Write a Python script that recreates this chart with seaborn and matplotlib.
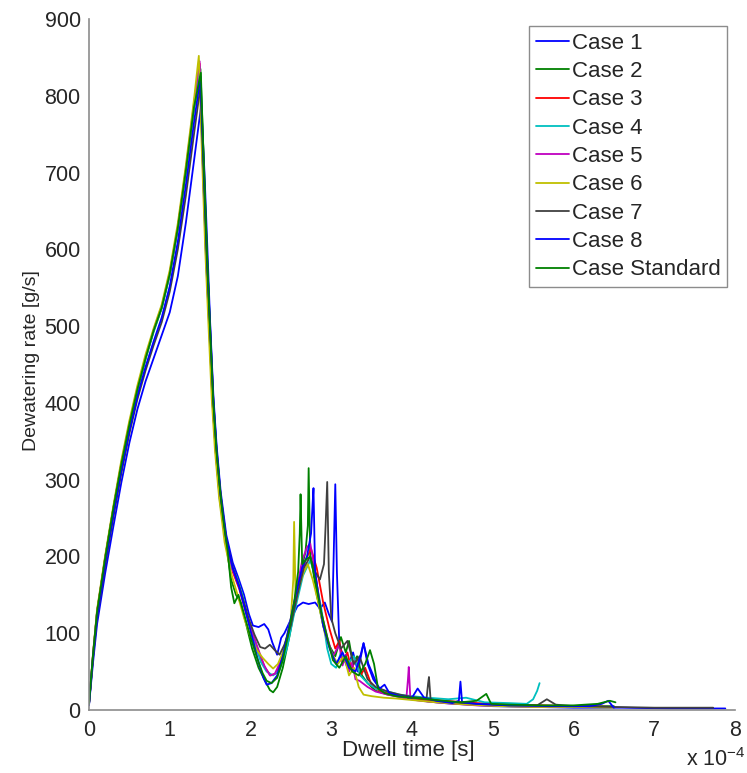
import matplotlib
matplotlib.use("Agg")
import matplotlib.pyplot as plt
import seaborn as sns
import pandas as pd

# ---------------- data (dwell time in units of 1e-4 s, rate in g/s) ----------------
case_names = ["Case 1", "Case 2", "Case 3", "Case 4", "Case 5", "Case 6", "Case 7", "Case 8", "Case Standard"]

rise_t = [0, 0.05, 0.1, 0.2, 0.3, 0.4, 0.5, 0.6, 0.7, 0.8, 0.9, 1.0, 1.1, 1.2, 1.3]

case1_rise = [6, 62, 112, 178, 238, 296, 348, 392, 428, 458, 488, 518, 565, 635, 715]
case1_t = [1.39, 1.43, 1.47, 1.5, 1.54, 1.58, 1.63, 1.7, 1.78, 1.85, 1.92, 1.98, 2.03, 2.1, 2.17, 2.22, 2.27,
           2.33, 2.38, 2.42, 2.5, 2.58, 2.65, 2.72, 2.8, 2.86, 2.92, 2.97, 3.01, 3.03, 3.05, 3.07, 3.1, 3.15,
           3.2, 3.27, 3.33, 3.4, 3.46, 3.52, 3.58, 3.65, 3.75, 3.9, 4.05, 4.2, 4.4, 4.7, 5.0, 5.5, 6.0, 6.6,
           7.2, 7.88]
case1_rate = [788, 700, 590, 505, 410, 345, 285, 228, 192, 172, 150, 125, 110, 108, 112, 105, 88,
              72, 94, 100, 118, 135, 140, 138, 140, 132, 140, 125, 115, 200, 294, 180, 85, 70,
              55, 75, 50, 87, 60, 45, 30, 24, 20, 16, 14, 11, 9, 7, 5, 4, 3, 3,
              2, 2]

case2_rise = [8, 72, 128, 198, 262, 320, 372, 418, 458, 494, 524, 568, 628, 703, 785]
case2_t = [1.38, 1.42, 1.46, 1.5, 1.54, 1.58, 1.63, 1.7, 1.76, 1.82, 1.88, 1.95, 2.02, 2.1, 2.18, 2.24, 2.28,
           2.33, 2.4, 2.48, 2.56, 2.63, 2.68, 2.71, 2.72, 2.74, 2.77, 2.82, 2.9, 2.97, 3.05, 3.12, 3.18,
           3.22, 3.27, 3.32, 3.38, 3.45, 3.55, 3.7, 3.85, 4.0, 4.2, 4.5, 4.8, 5.1, 5.5, 6.0, 6.5]
case2_rate = [835, 720, 600, 490, 395, 330, 270, 215, 170, 150, 140, 110, 80, 55, 38, 26, 23,
              30, 55, 95, 140, 185, 205, 240, 315, 200, 185, 150, 110, 85, 70, 95, 75,
              90, 60, 70, 45, 35, 25, 20, 17, 15, 12, 10, 8, 7, 6, 5, 5]

case3_rise = [8, 71, 127, 197, 260, 320, 372, 418, 458, 494, 524, 568, 628, 703, 785]
case3_t = [1.37, 1.41, 1.45, 1.49, 1.53, 1.57, 1.62, 1.7, 1.78, 1.86, 1.94, 2.02, 2.1, 2.18, 2.25, 2.32,
           2.4, 2.5, 2.6, 2.68, 2.75, 2.82, 2.9, 2.98, 3.05, 3.1, 3.15, 3.2, 3.25, 3.3, 3.36, 3.42,
           3.5, 3.6, 3.75, 3.9, 4.1, 4.4, 4.8, 5.2, 5.6, 6.0, 6.5]
case3_rate = [842, 710, 590, 495, 400, 335, 275, 215, 180, 158, 128, 100, 75, 55, 45, 48,
              70, 110, 160, 195, 210, 185, 140, 105, 80, 90, 62, 75, 52, 66, 45, 55,
              32, 25, 20, 17, 14, 12, 9, 7, 6, 5, 4]

case4_rise = [8, 71, 127, 196, 259, 319, 371, 417, 457, 492, 523, 566, 627, 702, 783]
case4_t = [1.37, 1.41, 1.45, 1.49, 1.53, 1.57, 1.62, 1.7, 1.77, 1.83, 1.9, 1.97, 2.05, 2.13, 2.2, 2.28,
           2.36, 2.45, 2.55, 2.65, 2.74, 2.8, 2.88, 2.95, 3.0, 3.06, 3.12, 3.2, 3.28, 3.36, 3.45, 3.55,
           3.7, 3.85, 4.0, 4.2, 4.45, 4.67, 4.9, 5.2, 5.42, 5.5, 5.55, 5.58]
case4_rate = [838, 705, 585, 495, 400, 335, 272, 215, 185, 173, 150, 118, 88, 62, 50, 45,
              52, 80, 130, 175, 195, 175, 130, 80, 60, 55, 75, 60, 70, 45, 35, 28,
              24, 20, 18, 16, 14, 16, 10, 9, 8, 14, 25, 35]

case5_rise = [8, 73, 129, 199, 262, 322, 374, 420, 460, 495, 526, 570, 630, 706, 790]
case5_t = [1.37, 1.41, 1.45, 1.49, 1.53, 1.57, 1.62, 1.7, 1.78, 1.86, 1.94, 2.02, 2.1, 2.17, 2.24, 2.3,
           2.38, 2.47, 2.56, 2.64, 2.7, 2.74, 2.8, 2.87, 2.95, 3.02, 3.1, 3.14, 3.18, 3.22, 3.26, 3.3,
           3.35, 3.45, 3.55, 3.7, 3.85, 3.93, 3.95, 3.96, 3.98, 4.1, 4.4, 4.8, 5.2, 5.6, 5.9]
case5_rate = [845, 712, 592, 498, 402, 336, 275, 218, 182, 160, 130, 102, 78, 58, 45, 47,
              65, 100, 150, 195, 212, 217, 180, 130, 95, 70, 85, 58, 72, 50, 62, 40,
              38, 30, 24, 20, 17, 15, 40, 56, 14, 12, 9, 6, 5, 4, 4]

case6_rise = [9, 74, 131, 201, 265, 325, 377, 423, 463, 497, 528, 573, 634, 710, 795]
case6_t = [1.36, 1.4, 1.44, 1.48, 1.52, 1.56, 1.61, 1.68, 1.76, 1.84, 1.92, 2.0, 2.08, 2.15, 2.22, 2.28,
           2.34, 2.4, 2.46, 2.5, 2.53, 2.54, 2.56, 2.6, 2.66, 2.71, 2.77, 2.84, 2.92, 3.0, 3.08, 3.16,
           3.22, 3.28, 3.34, 3.4, 3.5, 3.65, 3.8, 4.0, 4.3, 4.7, 5.1, 5.5, 6.0, 6.5]
case6_rate = [852, 720, 598, 500, 405, 338, 278, 218, 178, 150, 120, 95, 78, 68, 60, 54,
              60, 75, 100, 120, 170, 245, 140, 160, 180, 190, 170, 140, 100, 75, 60, 70,
              45, 55, 30, 20, 18, 16, 15, 13, 10, 7, 5, 4, 4, 3]

case7_rise = [7, 68, 120, 188, 250, 308, 360, 405, 442, 475, 505, 545, 600, 670, 750]
case7_t = [1.38, 1.42, 1.46, 1.5, 1.54, 1.58, 1.63, 1.7, 1.78, 1.85, 1.92, 1.98, 2.05, 2.12, 2.18, 2.24,
           2.3, 2.36, 2.42, 2.5, 2.58, 2.66, 2.74, 2.8, 2.86, 2.91, 2.93, 2.95, 2.97, 3.0, 3.05, 3.12,
           3.2, 3.28, 3.35, 3.45, 3.55, 3.7, 3.85, 4.0, 4.18, 4.2, 4.21, 4.23, 4.4, 4.8, 5.2, 5.55,
           5.67, 5.78, 6.0, 6.5, 7.0, 7.73]
case7_rate = [812, 700, 585, 495, 402, 338, 280, 222, 186, 165, 140, 118, 98, 82, 80, 85,
              78, 72, 85, 110, 150, 185, 200, 180, 170, 190, 240, 297, 180, 120, 100, 80,
              90, 60, 70, 40, 30, 24, 20, 17, 15, 35, 43, 14, 11, 8, 6, 6,
              14, 7, 5, 4, 3, 3]

case8_rise = [7, 69, 122, 192, 254, 312, 364, 409, 447, 480, 511, 552, 610, 684, 765]
case8_t = [1.38, 1.42, 1.46, 1.5, 1.54, 1.58, 1.63, 1.7, 1.78, 1.86, 1.94, 2.02, 2.1, 2.16, 2.2, 2.26,
           2.33, 2.4, 2.48, 2.56, 2.64, 2.7, 2.75, 2.77, 2.78, 2.8, 2.84, 2.9, 2.98, 3.06, 3.14, 3.22,
           3.3, 3.36, 3.4, 3.45, 3.52, 3.6, 3.66, 3.72, 3.85, 4.0, 4.07, 4.15, 4.3, 4.5, 4.58, 4.6,
           4.62, 4.8, 5.2, 5.7, 6.2, 6.35, 6.43, 6.5]
case8_rate = [825, 710, 592, 500, 404, 340, 280, 222, 185, 160, 128, 95, 62, 42, 33, 35,
              45, 70, 110, 150, 185, 200, 230, 270, 289, 180, 150, 110, 80, 60, 75, 55,
              50, 70, 87, 60, 40, 28, 33, 22, 18, 16, 28, 16, 12, 9, 12, 37,
              10, 8, 6, 5, 5, 8, 12, 3]

std_rise = [8, 72, 128, 198, 262, 320, 372, 418, 458, 494, 524, 568, 628, 703, 785]
std_t = [1.385, 1.42, 1.46, 1.5, 1.54, 1.58, 1.62, 1.66, 1.72, 1.76, 1.8, 1.85, 1.92, 2.0, 2.08, 2.15,
         2.2, 2.26, 2.33, 2.4, 2.47, 2.54, 2.59, 2.61, 2.62, 2.64, 2.68, 2.74, 2.8, 2.87, 2.95, 3.02,
         3.1, 3.18, 3.26, 3.34, 3.42, 3.48, 3.53, 3.58, 3.66, 3.8, 4.0, 4.3, 4.6, 4.8, 4.92, 4.98,
         5.2, 5.6, 6.0, 6.3, 6.45, 6.52]
std_rate = [830, 715, 595, 495, 400, 336, 290, 250, 205, 160, 139, 150, 125, 95, 68, 48,
            38, 35, 42, 65, 100, 140, 180, 230, 281, 190, 195, 200, 170, 130, 95, 65,
            55, 70, 50, 45, 60, 78, 60, 28, 22, 18, 16, 13, 10, 12, 21, 8,
            7, 6, 6, 8, 12, 10]

case_colors = ["#0000ff", "#008000", "#ff0000", "#00bfbf", "#bf00bf", "#bfbf00", "#404040", "#0000ff", "#008000"]

x_ticks = [0, 1, 2, 3, 4, 5, 6, 7, 8]
y_ticks = [0, 100, 200, 300, 400, 500, 600, 700, 800, 900]

# ---------------- build table ----------------
series = [
    (case1_rise, case1_t, case1_rate),
    (case2_rise, case2_t, case2_rate),
    (case3_rise, case3_t, case3_rate),
    (case4_rise, case4_t, case4_rate),
    (case5_rise, case5_t, case5_rate),
    (case6_rise, case6_t, case6_rate),
    (case7_rise, case7_t, case7_rate),
    (case8_rise, case8_t, case8_rate),
    (std_rise, std_t, std_rate),
]
frames = []
for name, (rise, tt, rr) in zip(case_names, series):
    frames.append(pd.DataFrame({
        "t": list(rise_t) + list(tt),
        "rate": list(rise) + list(rr),
        "case": name,
    }))
df = pd.concat(frames, ignore_index=True)

# ---------------- plot ----------------
sns.set_style("white")
plt.rcParams["font.family"] = ["Liberation Sans", "DejaVu Sans"]

fig = plt.figure(figsize=(7.47, 7.73), dpi=100)
ax = fig.add_axes([89 / 747, 1 - 710 / 773, (735 - 89) / 747, (710 - 19) / 773])

sns.lineplot(data=df, x="t", y="rate", hue="case", hue_order=case_names,
             palette=dict(zip(case_names, case_colors)), estimator=None, sort=False,
             linewidth=1.3, ax=ax)

ax.set_xlim(0, 8)
ax.set_ylim(0, 900)
ax.set_xticks(x_ticks)
ax.set_yticks(y_ticks)
ax.set_xticklabels([str(v) for v in x_ticks])
ax.set_yticklabels([str(v) for v in y_ticks])

txt = "#262626"
ax.tick_params(axis="both", direction="in", length=5, width=1, color="#404040",
               labelsize=15.5, labelcolor=txt)
ax.tick_params(axis="x", pad=7)
ax.tick_params(axis="y", pad=6)
for s in ["top", "right"]:
    ax.spines[s].set_visible(False)
for s in ["left", "bottom"]:
    ax.spines[s].set_color("#8c8c8c")
    ax.spines[s].set_linewidth(1.2)

ax.set_xlabel("Dwell time [s]", fontsize=16, color=txt)
ax.xaxis.set_label_coords(0.495, -0.043, transform=ax.transAxes)
ax.xaxis.label.set_va("top")
ax.set_ylabel("Dewatering rate [g/s]", fontsize=14, color=txt)
ax.yaxis.set_label_coords(-0.076, 0.506, transform=ax.transAxes)

ax.text(1.017, -0.081, "x 10$^{\\mathregular{-4}}$", transform=ax.transAxes, ha="right", va="baseline",
        fontsize=15.5, color=txt)

leg = ax.legend(loc="upper right", bbox_to_anchor=((727 - 89) / 646, (710 - 26) / 691),
                borderaxespad=0, fontsize=16, frameon=True, fancybox=False, framealpha=1,
                edgecolor="#8c8c8c", handlelength=1.5, handletextpad=0.1, labelspacing=0.33,
                borderpad=0.3, title=None)
leg.get_frame().set_linewidth(1.0)
for t in leg.get_texts():
    t.set_color(txt)
for h in leg.get_lines():
    h.set_linewidth(1.3)

fig.savefig("out.png", dpi=100)
